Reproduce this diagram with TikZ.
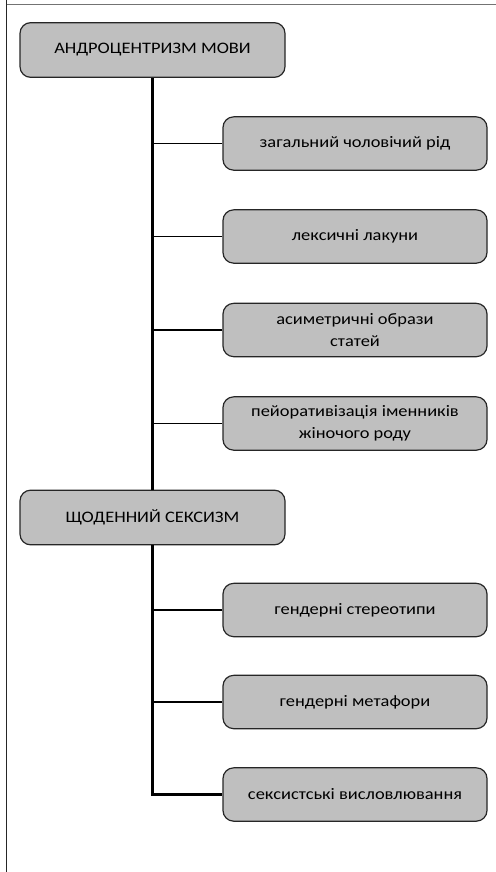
\documentclass[tikz,border=0pt]{standalone}
\usepackage{fontspec}
\setmainfont{Carlito}[FakeStretch=1.15]
\begin{document}
\begin{tikzpicture}[x=0.75pt,y=-0.75pt,
  box/.style={draw=black!85,line width=0.9pt,fill=black!25,rounded corners=8pt,
    minimum width=198pt,minimum height=40pt,align=center,inner sep=2pt,
    font=\fontsize{12}{16.5}\selectfont},
  head/.style={box,minimum width=198.75pt,minimum height=41pt},
  trunk/.style={line width=1.9pt,black},
  twig/.style={line width=1.3pt,black}]
\useasboundingbox (0,0) rectangle (496,872);
\draw[line width=1.2pt,black!85] (6.5,0) -- (6.5,872);
\draw[line width=1.2pt,black!55] (6.5,4.5) -- (496,4.5);
\node[head] (a) at (152.5,50) {АНДРОЦЕНТРИЗМ МОВИ};
\node[box] (a1) at (355,143.5) {загальний чоловічий рід};
\node[box] (a2) at (355,236.5) {лексичні лакуни};
\node[box] (a3) at (355,330) {асиметричні образи\\статей};
\node[box] (a4) at (355,423.5) {пейоративізація іменників\\жіночого роду};
\node[head] (b) at (152.5,517.5) {ЩОДЕННИЙ СЕКСИЗМ};
\node[box] (b1) at (355,610) {гендерні стереотипи};
\node[box] (b2) at (355,702) {гендерні метафори};
\node[box] (b3) at (355,794.5) {сексистські висловлювання};
\draw[trunk] (a.south) -- (b.north);
\foreach \n in {a1,a2,a3,a4} \draw[twig] (\n.west) -- (\n.west -| a.south);
\draw[trunk] (b.south) |- (b3.west);
\foreach \n in {b1,b2} \draw[twig] (\n.west) -- (\n.west -| b.south);
\end{tikzpicture}
\end{document}
